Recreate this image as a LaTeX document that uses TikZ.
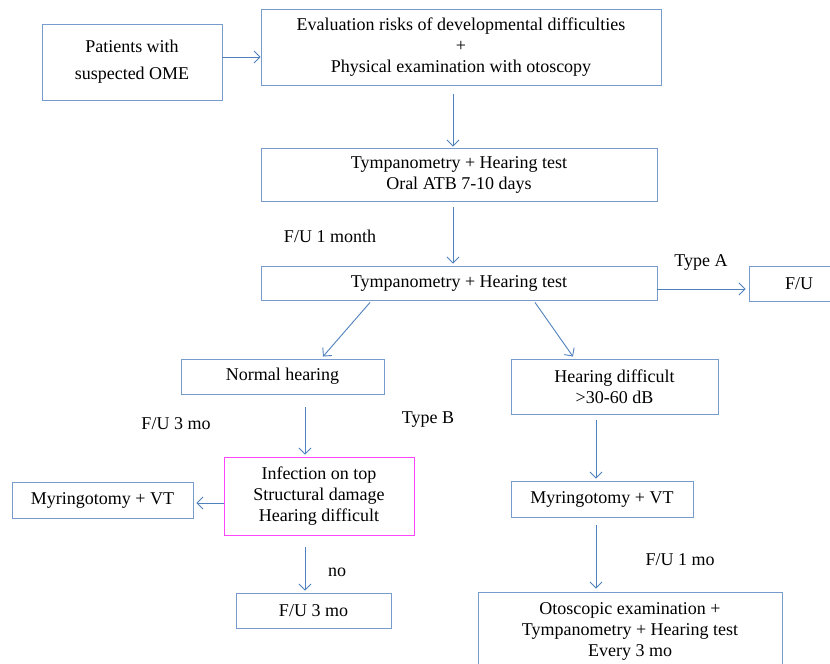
\documentclass[tikz,border=0pt]{standalone}
\usepackage{fontspec}
\setmainfont{Liberation Serif}
\usetikzlibrary{arrows.meta,positioning}

\definecolor{flowblue}{RGB}{79,129,189}
\definecolor{boxblue}{RGB}{120,155,205}
\definecolor{boxpink}{RGB}{255,70,255}

\tikzset{
  box/.style={draw=boxblue, line width=0.9pt, align=center, inner sep=0pt,
    font=\fontsize{18}{21}\selectfont}, % boxes
  flow/.style={draw=flowblue, line width=0.9pt,
    -{Straight Barb[length=6pt,width=12pt]}}, % arrows
  tag/.style={font=\fontsize{18}{21}\selectfont} % edge texts
}

\begin{document}
\begin{tikzpicture}[x=1pt, y=-1pt]
    \useasboundingbox[fill=white] (0,0) rectangle (830,664);

    \node[box, minimum width=180, minimum height=76] (patients) at (132,62)
      {Patients with\\[6pt]suspected OME};
    \node[box, minimum width=400, minimum height=76] (eval) at (461,47)
      {Evaluation risks of developmental difficulties\\+\\Physical examination with otoscopy};
    \node[box, minimum width=396, minimum height=53] (tymp1) at (459,174.5)
      {Tympanometry + Hearing test\\Oral ATB 7-10 days};
    \node[box, minimum width=396, minimum height=34] (tymp2) at (459,283)
      {Tympanometry + Hearing test};
    \node[box, minimum width=100, minimum height=35] (fu) at (799,283.5) {F/U};
    \node[box, minimum width=203, minimum height=35] (normal) at (282.5,376.5)
      {Normal hearing};
    \node[box, minimum width=207, minimum height=55] (hdiff) at (614.5,386.5)
      {Hearing difficult\\>30-60 dB};
    \node[box, draw=boxpink, minimum width=190, minimum height=78] (infect) at (319,496)
      {Infection on top\\Structural damage\\Hearing difficult};
    \node[box, minimum width=181, minimum height=36] (myrL) at (102.5,500)
      {Myringotomy + VT};
    \node[box, minimum width=182, minimum height=36] (myrR) at (602,499)
      {Myringotomy + VT};
    \node[box, minimum width=155, minimum height=35] (fu3) at (313.5,610.5)
      {F/U 3 mo};
    \node[box, minimum width=304, minimum height=78] (oto) at (630,631)
      {Otoscopic examination +\\Tympanometry + Hearing test\\Every 3 mo};

    \node[tag] (month) at (330,236) {F/U 1 month};
    \node[tag] (typeA) at (701,262) {Type A};
    \node[tag] (fu3mo) at (176,424) {F/U 3 mo};
    \node[tag] (typeB) at (428,420) {Type B};
    \node[tag] (no) at (337,572) {no};
    \node[tag] (fu1mo) at (680,560) {F/U 1 mo};

    \draw[flow] ([yshift=5pt]patients.east) -- ([yshift=-10pt]eval.west);
    \draw[flow] ([xshift=-8pt,yshift=-9pt]eval.south) -- ([xshift=-6pt,yshift=1pt]tymp1.north);
    \draw[flow] ([xshift=-6pt,yshift=-6pt]tymp1.south) -- ([xshift=-6pt,yshift=2pt]tymp2.north);
    \draw[flow] ([yshift=-6pt]tymp2.east) -- ([xshift=-3pt,yshift=-5.5pt]fu.west);
    \draw[flow] ([xshift=-89pt,yshift=-2pt]tymp2.south) -- ([xshift=40.5pt,yshift=2pt]normal.north);
    \draw[flow] ([xshift=76pt,yshift=-2pt]tymp2.south) -- ([xshift=-41.5pt,yshift=2pt]hdiff.north);
    \draw[flow] ([xshift=22.5pt,yshift=-13pt]normal.south) -- ([xshift=-14pt,yshift=2pt]infect.north);
    \draw[flow] ([xshift=-18.5pt,yshift=-6pt]hdiff.south) -- ([xshift=-6pt,yshift=2pt]myrR.north);
    \draw[flow] ([yshift=-7pt]infect.west) -- ([xshift=3pt,yshift=-3pt]myrL.east);
    \draw[flow] ([xshift=-14pt,yshift=-12pt]infect.south) -- ([xshift=-8.5pt,yshift=2pt]fu3.north);
    \draw[flow] ([xshift=-6pt,yshift=-8pt]myrR.south) -- ([xshift=-34pt,yshift=3pt]oto.north);
\end{tikzpicture}
\end{document}
